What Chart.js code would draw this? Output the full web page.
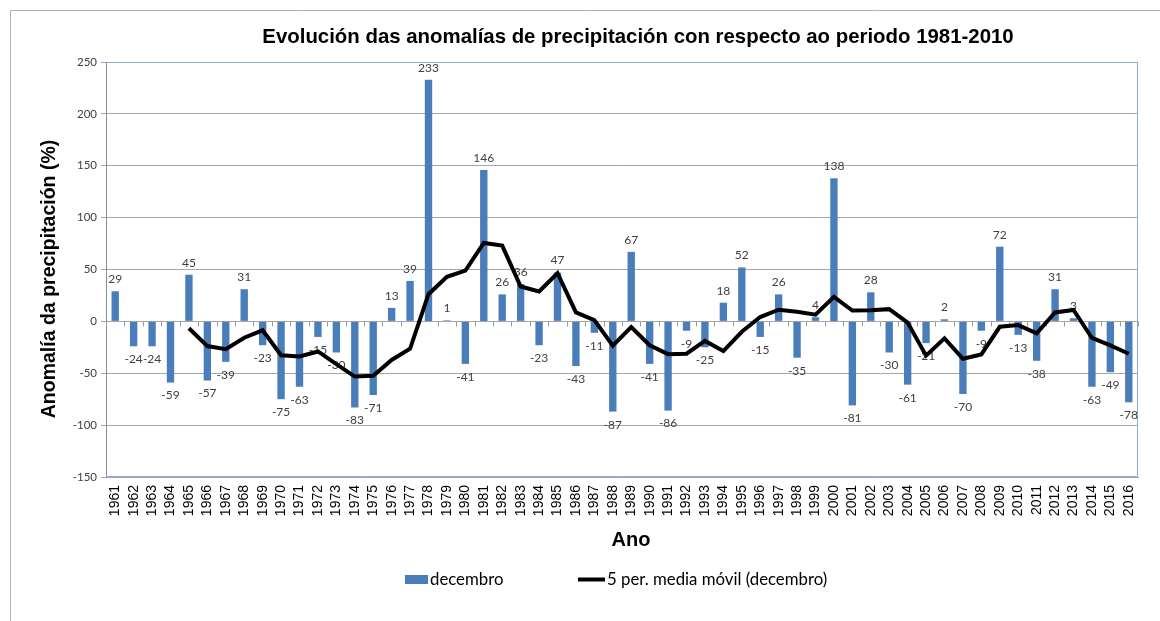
<!DOCTYPE html>
<html>
<head>
<meta charset="utf-8">
<script src="https://cdn.jsdelivr.net/npm/chart.js@4/dist/chart.umd.min.js"></script>
<style>
html,body{margin:0;padding:0;background:#fff;}
#wrap{width:1160px;height:621px;position:relative;}
</style>
</head>
<body>
<div id="wrap"><canvas id="c" width="1160" height="621"></canvas></div>
<script>
const years = ["1961","1962","1963","1964","1965","1966","1967","1968","1969","1970","1971","1972","1973","1974","1975","1976","1977","1978","1979","1980","1981","1982","1983","1984","1985","1986","1987","1988","1989","1990","1991","1992","1993","1994","1995","1996","1997","1998","1999","2000","2001","2002","2003","2004","2005","2006","2007","2008","2009","2010","2011","2012","2013","2014","2015","2016"];
const decembro = [29,-24,-24,-59,45,-57,-39,31,-23,-75,-63,-15,-30,-83,-71,13,39,233,1,-41,146,26,36,-23,47,-43,-11,-87,67,-41,-86,-9,-25,18,52,-15,26,-35,4,138,-81,28,-30,-61,-21,2,-70,-9,72,-13,-38,31,3,-63,-49,-78];
const mediaMovil = [null,null,null,null,-6.6,-23.8,-26.8,-15.8,-8.6,-32.6,-33.8,-29,-41.2,-53.2,-52.4,-37.2,-26.4,26.2,43,49,75.6,73,33.6,28.8,46.4,8.6,1.2,-23.4,-5.4,-23,-31.6,-31.2,-18.8,-28.6,-10,4.2,11.2,9.2,6.4,23.6,10.4,10.8,11.8,-1.2,-33,-16.4,-36,-31.8,-5.2,-3.6,-11.6,8.6,11,-16,-23.2,-31.2];
const yTicks = [-150,-100,-50,0,50,100,150,200,250];
const chartTitle = "Evolución das anomalías de precipitación con respecto ao periodo 1981-2010";
const yTitle = "Anomalía da precipitación (%)";
const xTitle = "Ano";
const legendBar = "decembro";
const legendLine = "5 per. media móvil (decembro)";

const BLUE = '#4a7ebb';
const LABEL_FONT = '12px Lato, "Liberation Sans", sans-serif';

const decor = {
  id: 'decor',
  beforeDraw(chart) {
    const ctx = chart.ctx;
    ctx.save();
    ctx.fillStyle = '#fff';
    ctx.fillRect(0, 0, chart.width, chart.height);
    ctx.strokeStyle = '#b0b0b0';
    ctx.lineWidth = 1;
    ctx.beginPath();
    ctx.moveTo(10.5, chart.height + 5);
    ctx.lineTo(10.5, 10.5);
    ctx.lineTo(chart.width + 5, 10.5);
    ctx.stroke();
    ctx.restore();
  },
  beforeDatasetsDraw(chart) {
    const ctx = chart.ctx, a = chart.chartArea;
    const y = chart.scales.y;
    ctx.save();
    ctx.strokeStyle = '#8eaadb';
    ctx.lineWidth = 1;
    ctx.beginPath();
    ctx.moveTo(a.left, a.top + 0.5);
    ctx.lineTo(a.right - 0.5, a.top + 0.5);
    ctx.lineTo(a.right - 0.5, a.bottom - 0.5);
    ctx.lineTo(a.left, a.bottom - 0.5);
    ctx.stroke();
    const y0 = Math.round(y.getPixelForValue(0)) + 0.5;
    const n = years.length;
    const w = (a.right - a.left) / n;
    ctx.strokeStyle = '#9a9a9a';
    ctx.beginPath();
    for (let i = 0; i <= n; i++) {
      const xx = Math.round(a.left + i * w) + 0.5;
      ctx.moveTo(xx, y0);
      ctx.lineTo(xx, y0 + 5);
    }
    ctx.stroke();
    ctx.restore();
  },
  afterDatasetDraw(chart, args) {
    if (args.index !== 0) return;
    const ctx = chart.ctx;
    const meta = chart.getDatasetMeta(0);
    ctx.save();
    ctx.font = LABEL_FONT;
    ctx.fillStyle = '#404040';
    ctx.textAlign = 'center';
    ctx.textBaseline = 'middle';
    meta.data.forEach((bar, i) => {
      const v = decembro[i];
      const yy = v >= 0 ? bar.y - 12 : bar.y + 13;
      ctx.fillText(String(v), bar.x, yy);
    });
    ctx.restore();
  },
  afterDraw(chart) {
    const ctx = chart.ctx;
    ctx.save();
    ctx.fillStyle = '#000';
    ctx.textAlign = 'center';
    ctx.textBaseline = 'middle';
    ctx.font = 'bold 20.4px "Liberation Sans", Arial, sans-serif';
    ctx.fillText(chartTitle, 638, 37);
    ctx.font = 'bold 20px "Liberation Sans", Arial, sans-serif';
    ctx.fillText(xTitle, 631, 540);
    ctx.save();
    ctx.translate(50, 279);
    ctx.rotate(-Math.PI / 2);
    ctx.font = 'bold 19.5px "Liberation Sans", Arial, sans-serif';
    ctx.fillText(yTitle, 0, 0);
    ctx.restore();
    ctx.fillStyle = BLUE;
    ctx.fillRect(405, 575, 23, 9);
    ctx.strokeStyle = '#000';
    ctx.lineWidth = 4;
    ctx.beginPath();
    ctx.moveTo(578, 579.5);
    ctx.lineTo(605, 579.5);
    ctx.stroke();
    ctx.fillStyle = '#000';
    ctx.textAlign = 'left';
    ctx.font = '16.8px Lato, "Liberation Sans", sans-serif';
    ctx.fillText(legendBar, 430, 580);
    ctx.fillText(legendLine, 607, 580);
    ctx.restore();
  }
};

new Chart(document.getElementById('c'), {
  type: 'bar',
  data: {
    labels: years,
    datasets: [
      {
        type: 'bar',
        label: legendBar,
        data: decembro,
        backgroundColor: BLUE,
        borderWidth: 0,
        categoryPercentage: 1,
        barPercentage: 0.4,
        order: 1
      },
      {
        type: 'line',
        label: legendLine,
        data: mediaMovil,
        borderColor: '#000',
        borderWidth: 4,
        pointRadius: 0,
        tension: 0,
        fill: false,
        spanGaps: false,
        order: 0
      }
    ]
  },
  options: {
    responsive: false,
    animation: false,
    devicePixelRatio: 1,
    layout: { padding: { top: 62, left: 0, right: 22, bottom: 0 } },
    plugins: { legend: { display: false }, title: { display: false }, tooltip: { enabled: false } },
    scales: {
      x: {
        grid: { display: false, drawTicks: false },
        border: { display: true, color: '#8eaadb' },
        ticks: {
          autoSkip: false, minRotation: 90, maxRotation: 90, padding: 8,
          color: '#000', font: { family: '"Liberation Sans", Arial, sans-serif', size: 14 }
        },
        afterFit(s) { s.height = 144; }
      },
      y: {
        min: -150, max: 250,
        afterBuildTicks(s) { s.ticks = yTicks.map(v => ({ value: v })); },
        grid: { color: '#a6a6a6', tickLength: 5, drawTicks: true },
        border: { display: true, color: '#8c8c8c' },
        ticks: {
          padding: 4, color: '#404040',
          font: { family: 'Lato, "Liberation Sans", sans-serif', size: 11.5 }
        },
        afterFit(s) { s.width = 106; }
      }
    }
  },
  plugins: [decor]
});
</script>
</body>
</html>
